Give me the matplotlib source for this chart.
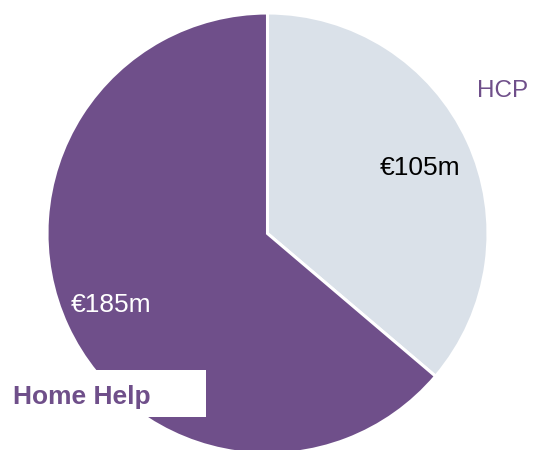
import matplotlib
matplotlib.use("Agg")
import matplotlib.pyplot as plt
from matplotlib.patches import Rectangle

categories = ["HCP", "Home Help"]
values = [105, 185]
value_labels = ["€105m", "€185m"]
colors = ["#DAE1E9", "#6F4F8A"]

plt.rcParams['font.family'] = ['Liberation Sans', 'DejaVu Sans']

W, H = 533, 450
fig = plt.figure(figsize=(W / 100, H / 100), dpi=100)
ax = fig.add_axes([0, 0, 1, 1])

cx, cy, r = 267.5, H - 233.5, 220.5
wedges, _ = ax.pie(values, colors=colors, startangle=90, counterclock=False,
                   center=(cx, cy), radius=r, frame=True,
                   wedgeprops=dict(edgecolor="white", linewidth=2.2))

ax.set_xlim(0, W)
ax.set_ylim(0, H)
ax.set_aspect("equal")
ax.axis("off")

# value labels inside slices
ax.text(420, H - 168, value_labels[0], fontsize=19, color="black",
        ha="center", va="center")
ax.text(111, H - 305, value_labels[1], fontsize=19, color="white",
        ha="center", va="center")

# category labels
ax.text(503, H - 91, categories[0], fontsize=17.5, color="#6F4F8A",
        ha="center", va="center")
ax.add_patch(Rectangle((0, H - 417), 206, 47, facecolor="white",
                       edgecolor="none", zorder=5))
ax.text(13, H - 397, categories[1], fontsize=19, color="#6F4F8A",
        fontweight="bold", ha="left", va="center", zorder=6)

fig.savefig("out.png", dpi=100)
